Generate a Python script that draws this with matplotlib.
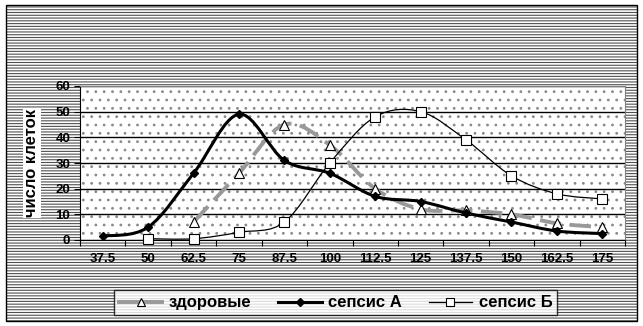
import numpy as np
import matplotlib
matplotlib.use('Agg')
import matplotlib.pyplot as plt
from matplotlib.path import Path
from matplotlib.patches import PathPatch, Rectangle
from matplotlib.lines import Line2D

plt.rcParams['font.family'] = ['Liberation Sans', 'DejaVu Sans']
plt.rcParams['hatch.linewidth'] = 0.8

# data
categories = ['37.5', '50', '62.5', '75', '87.5', '100', '112.5', '125', '137.5', '150', '162.5', '175']
healthy = [None, None, 7, 26, 45, 37, 20, 12, 11.5, 10, 6.5, 5]
sepsis_a = [1.5, 5, 26, 49, 31, 26, 17, 15, 10.5, 7, 3.5, 2.5]
sepsis_b = [None, 0.5, 0.5, 3, 7, 30, 48, 50, 39, 25, 18, 16]
names = ['здоровые', 'сепсис А', 'сепсис Б']
yticks = [0, 10, 20, 30, 40, 50, 60]


def smooth_path(xs, ys):
    # excel-like smoothed line: catmull-rom turned into bezier segments
    pts = np.column_stack([xs, ys]).astype(float)
    n = len(pts)
    verts = [pts[0]]
    codes = [Path.MOVETO]
    for i in range(n - 1):
        p0 = pts[i - 1] if i > 0 else pts[i]
        p1 = pts[i]
        p2 = pts[i + 1]
        p3 = pts[i + 2] if i + 2 < n else pts[i + 1]
        verts += [p1 + (p2 - p0) / 6, p2 - (p3 - p1) / 6, p2]
        codes += [Path.CURVE4] * 3
    return Path(verts, codes)


def valid(vals):
    xs = [i for i, v in enumerate(vals) if v is not None]
    ys = [v for v in vals if v is not None]
    return xs, ys


fig = plt.figure(figsize=(6.43, 3.26), dpi=100)
fig.patch.set_facecolor('white')

# patterned chart area with a black frame
frame = (6 / 643, 5 / 326)
fw, fh = 631 / 643, 316 / 326
fig.patches.append(Rectangle(frame, fw, fh, transform=fig.transFigure, facecolor='white',
                             edgecolor='#505050', hatch='------', linewidth=0, zorder=-10))
fig.patches.append(Rectangle(frame, fw, fh, transform=fig.transFigure, facecolor='none',
                             edgecolor='black', linewidth=1, zorder=-9))

ax = fig.add_axes([80 / 643, 1 - 240 / 326, 545 / 643, 154 / 326])
ax.set_facecolor('white')
ax.add_patch(Rectangle((0, 0), 1, 1, transform=ax.transAxes, facecolor='none',
                       edgecolor='#8a8a8a', hatch='..', linewidth=0, zorder=0))

ax.set_xlim(-0.5, len(categories) - 0.5)
ax.set_ylim(0, 60)
ax.set_yticks(yticks)
ax.set_yticklabels([str(t) for t in yticks], fontsize=9.5, fontweight='bold')
ax.yaxis.grid(True, color='black', linewidth=1)
ax.set_axisbelow(True)

ax.set_xticks(np.arange(len(categories) + 1) - 0.5)
ax.set_xticklabels([])
ax.set_xticks(np.arange(len(categories)), minor=True)
ax.set_xticklabels(categories, minor=True, fontsize=9.5, fontweight='bold')
ax.tick_params(axis='x', which='minor', length=0, pad=9)
ax.tick_params(axis='x', which='major', length=4, direction='out', color='black')
ax.tick_params(axis='y', length=4, direction='out', pad=3)

for s in ['top', 'right']:
    ax.spines[s].set_color('#808080')
ax.spines['left'].set_color('black')
ax.spines['bottom'].set_color('black')

# healthy
xs, ys = valid(healthy)
ax.add_patch(PathPatch(smooth_path(xs, ys), facecolor='none', edgecolor='#999999',
                       linewidth=2.8, linestyle=(0, (5.5, 2.2)), capstyle='butt', zorder=3))
ax.plot(xs, ys, linestyle='none', marker='^', markersize=7, markerfacecolor='white',
        markeredgecolor='black', markeredgewidth=0.8, zorder=6, clip_on=False)

# sepsis A
xs, ys = valid(sepsis_a)
ax.add_patch(PathPatch(smooth_path(xs, ys), facecolor='none', edgecolor='black',
                       linewidth=2.2, zorder=4))
ax.plot(xs, ys, linestyle='none', marker='D', markersize=4.5, color='black', zorder=6, clip_on=False)

# sepsis B
xs, ys = valid(sepsis_b)
ax.add_patch(PathPatch(smooth_path(xs, ys), facecolor='none', edgecolor='black',
                       linewidth=0.9, zorder=5))
ax.plot(xs, ys, linestyle='none', marker='s', markersize=6.5, markerfacecolor='white',
        markeredgecolor='black', markeredgewidth=0.8, zorder=7, clip_on=False)

fig.text(32 / 643, 1 - 163 / 326, 'число клеток', rotation=90, ha='center', va='center',
         fontsize=12, fontweight='bold',
         bbox=dict(facecolor='white', edgecolor='none', pad=1))

handles = [
    Line2D([], [], color='#999999', linewidth=2.8, marker='^', markersize=6,
           markerfacecolor='white', markeredgecolor='black', markeredgewidth=0.8),
    Line2D([], [], color='black', linewidth=2.2, marker='D', markersize=4),
    Line2D([], [], color='black', linewidth=0.9, marker='s', markersize=5.5,
           markerfacecolor='white', markeredgecolor='black', markeredgewidth=0.8),
]
leg = fig.legend(handles, names, loc='center', bbox_to_anchor=(0.522, 0.0706), ncol=3,
                 frameon=True, fancybox=False, handlelength=2.6, columnspacing=1.6,
                 handletextpad=0.4, borderpad=0.3,
                 prop={'size': 12, 'weight': 'bold'})
leg.get_frame().set_edgecolor('black')
leg.get_frame().set_linewidth(1)

fig.savefig('out.png', dpi=100)
